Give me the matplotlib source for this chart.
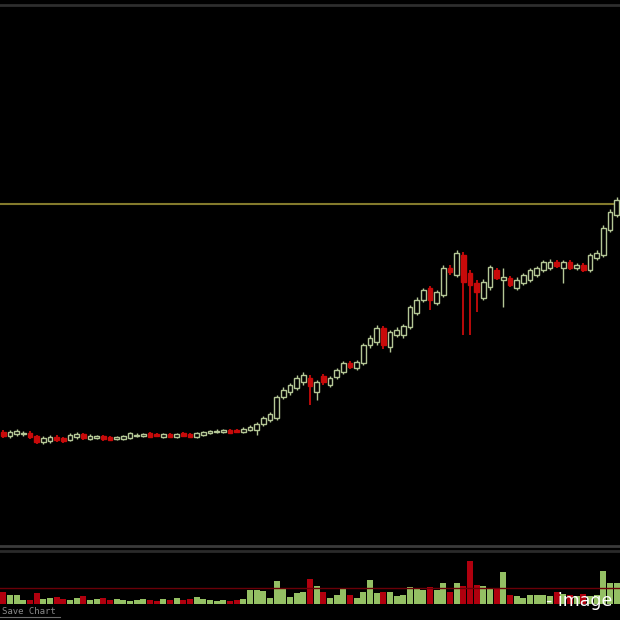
import numpy as np
import matplotlib
matplotlib.use("Agg")
import matplotlib.pyplot as plt
from matplotlib.lines import Line2D

# Candle data (price units), one entry per bar
opens = [113, 109, 111, 111, 112, 109, 103, 104, 108, 107, 105, 108, 111, 106, 107, 109,
         108, 106, 106, 107, 109, 109, 112, 111, 108, 111, 108, 112, 111, 108, 110, 112,
         113, 113, 115, 115, 113, 115, 115, 121, 125, 127, 148, 153, 157, 163, 167, 153,
         169, 160, 168, 173, 182, 177, 182, 200, 203, 217, 198, 210, 210, 218, 232, 245,
         257, 242, 250, 277, 270, 290, 272, 262, 247, 258, 275, 265, 267, 257, 262, 265,
         270, 275, 277, 283, 277, 283, 277, 280, 275, 287, 290, 315, 330]
closes = [109, 113, 114, 112, 108, 103, 107, 108, 105, 104, 110, 111, 107, 109, 109, 106,
          105, 108, 109, 112, 110, 111, 108, 109, 111, 108, 111, 109, 108, 112, 113, 114,
          114, 115, 112, 113, 116, 118, 121, 127, 131, 148, 155, 160, 167, 170, 159, 163,
          163, 167, 175, 182, 178, 183, 200, 207, 217, 200, 213, 215, 219, 238, 245, 255,
          245, 253, 277, 273, 292, 263, 260, 253, 263, 278, 267, 268, 260, 265, 270, 275,
          277, 283, 283, 279, 283, 277, 280, 275, 290, 292, 317, 333, 345]
highs = [115, 115, 116, 114, 114, 110, 109, 110, 110, 108, 112, 113, 112, 111, 110, 110,
         109, 109, 110, 113, 112, 112, 113, 112, 112, 112, 112, 113, 112, 113, 114, 115,
         116, 116, 116, 116, 118, 120, 123, 129, 133, 150, 158, 162, 170, 173, 170, 165,
         171, 169, 177, 184, 184, 185, 202, 210, 220, 219, 215, 218, 221, 240, 248, 257,
         259, 255, 280, 280, 295, 293, 275, 265, 266, 280, 277, 277, 269, 268, 272, 277,
         279, 285, 286, 285, 285, 285, 282, 282, 292, 295, 320, 336, 348]
lows = [107, 107, 109, 109, 106, 101, 101, 102, 103, 102, 104, 106, 105, 105, 106, 104,
        104, 105, 105, 106, 108, 108, 107, 108, 107, 107, 107, 108, 107, 107, 109, 111,
        112, 112, 111, 112, 112, 114, 110, 119, 123, 125, 146, 150, 155, 160, 140, 145,
        160, 158, 166, 171, 176, 175, 180, 197, 200, 196, 193, 208, 207, 216, 230, 243,
        235, 240, 248, 270, 268, 210, 210, 233, 245, 255, 265, 238, 258, 255, 260, 263,
        268, 273, 275, 277, 262, 275, 275, 273, 273, 285, 288, 313, 328]
volumes = [12, 9, 9, 4, 4, 11, 5, 6, 7, 5, 4, 6, 8, 4, 5, 6,
           4, 5, 4, 3, 4, 5, 4, 3, 5, 4, 6, 4, 5, 7, 5, 4,
           3, 4, 3, 4, 5, 14, 14, 13, 6, 23, 15, 7, 11, 12, 25, 18,
           12, 6, 9, 15, 9, 6, 12, 24, 11, 12, 12, 8, 9, 17, 15, 14,
           17, 14, 21, 12, 21, 18, 43, 19, 18, 15, 16, 32, 9, 8, 6, 9,
           9, 9, 8, 12, 10, 9, 8, 10, 8, 9, 33, 21, 21]
resistance = 341
avg_volume = 16

up_col = "#b4c796"
down_col = "#c80a0a"
vol_up = "#94c064"
vol_down = "#b0000e"

o = np.array(opens)
c = np.array(closes)
h = np.array(highs)
l = np.array(lows)
v = np.array(volumes)
x = np.arange(len(o))
up = c >= o

fig = plt.figure(figsize=(6.2, 6.2), dpi=100, facecolor="black")

# price panel
ax = fig.add_axes([0, 75 / 620, 1, 537 / 620], facecolor="black")
ax.vlines(x[up], l[up], h[up], color=up_col, lw=1, zorder=2)
ax.vlines(x[~up], l[~up], h[~up], color=down_col, lw=1.3, zorder=2)
ax.bar(x[up], c[up] - o[up], bottom=o[up], width=0.68, facecolor="black",
       edgecolor=up_col, linewidth=1, zorder=3)
ax.bar(x[~up], o[~up] - c[~up], bottom=c[~up], width=0.72, facecolor=down_col,
       edgecolor=down_col, linewidth=1, zorder=3)
ax.axhline(resistance, color="#837a2c", lw=1.5, zorder=1)
ax.set_xlim(-0.5, len(o) - 0.5)
ax.set_ylim(0, 537)
ax.axis("off")

# volume panel
vax = fig.add_axes([0, 16 / 620, 1, 51 / 620], facecolor="black")
vax.bar(x[up], v[up], width=0.9, color=vol_up)
vax.bar(x[~up], v[~up], width=0.9, color=vol_down)
vax.axhline(avg_volume, color="#6a0008", lw=1)
vax.set_xlim(-0.5, len(o) - 0.5)
vax.set_ylim(0, 51)
vax.axis("off")

# frame lines
for ypx, col in [(5, "#2e2e2e"), (546, "#3a3a3a"), (551, "#2a2a2a")]:
    fig.add_artist(Line2D([0, 1], [1 - ypx / 620] * 2, color=col, lw=2))

fig.text(0.003, 1 - 612 / 620, "Save Chart", fontsize=6.5, color="#8a8a8a",
         family="DejaVu Sans Mono", va="center")
fig.add_artist(Line2D([0, 60 / 620], [1 - 617 / 620] * 2, color="#6a6a6a", lw=0.8))
fig.text(0.988, 1 - 601 / 620, "- image", fontsize=12.5, color="white",
         ha="right", va="center")

plt.savefig("out.png", dpi=100, facecolor="black")
